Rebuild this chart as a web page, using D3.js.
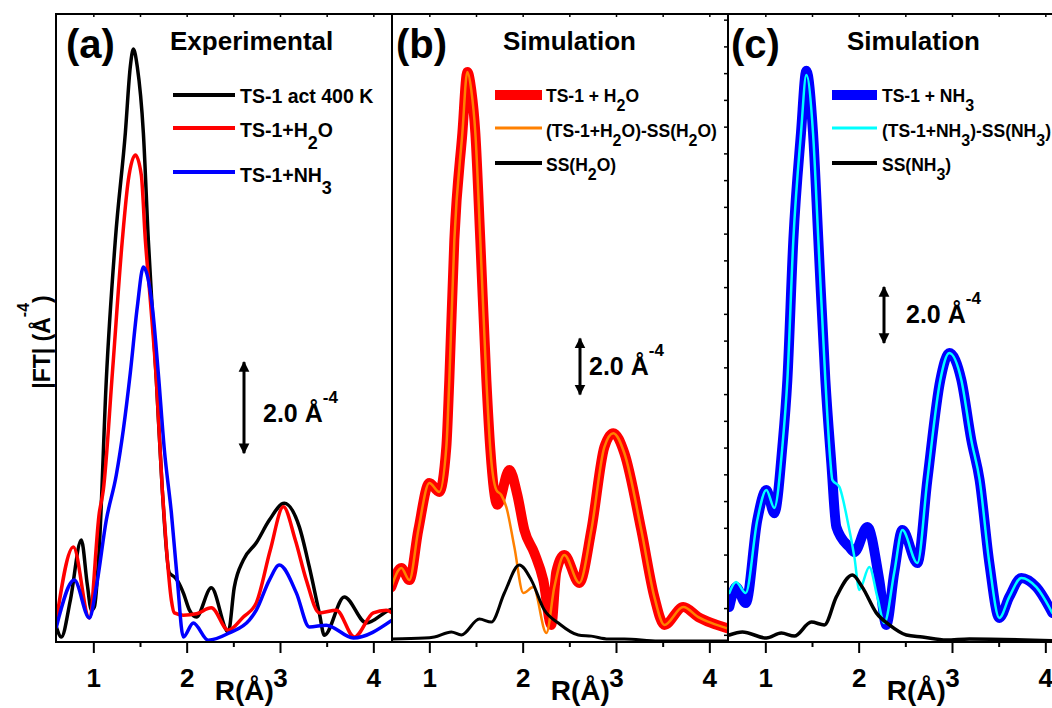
<!DOCTYPE html>
<html><head><meta charset="utf-8">
<script src="https://cdn.jsdelivr.net/npm/d3@7"></script>
<style>
body{margin:0;background:#fff}
svg{display:block}
text{font-family:Arial,"Liberation Sans",Helvetica,sans-serif;fill:#000}
</style>
</head><body>
<svg id="chart" width="1052" height="708"></svg>
<script>
// ---------------- DATA ----------------
const xTicksMajor = [1, 2, 3, 4];
const xTicksMinor = [1.5, 2.5, 3.5];
const xDomain = [0.6, 4.2];
const panelTags = ["(a)", "(b)", "(c)"];
const panelTitles = ["Experimental", "Simulation", "Simulation"];
const scaleBarLabel = "2.0 Å^{-4}";
const scaleBarValue = 2.0;
const yAxisLabel = "|FT| (Å^{-4})";
const xAxisLabel = "R(Å)";

// (a) experimental
const expAct400K = [[0.604,0.33],[0.657,0.11],[0.754,0.92],[0.871,2.24],[0.936,1.25],[0.979,0.70],[1.011,0.77],[1.064,2.09],[1.139,5.76],[1.236,8.84],[1.343,11.19],[1.396,12.64],[1.429,13.03],[1.471,12.64],[1.536,11.19],[1.589,8.84],[1.675,5.76],[1.739,3.34],[1.814,1.52],[1.868,1.43],[1.9,1.35],[1.964,1.08],[2.03,0.70],[2.104,0.55],[2.264,1.19],[2.446,0.22],[2.51,1.2],[2.607,1.80],[2.746,2.18],[2.886,2.68],[3.046,3.05],[3.207,2.53],[3.314,1.65],[3.421,0.64],[3.475,0.15],[3.689,0.99],[3.925,0.42],[4.171,0.70],[4.2,0.72]];
const expH2O = [[0.604,0.48],[0.786,2.09],[0.957,0.53],[1.064,2.84],[1.107,3.34],[1.204,5.91],[1.311,8.84],[1.375,10.15],[1.45,10.70],[1.514,10.26],[1.557,8.84],[1.611,7.5],[1.675,5.76],[1.739,3.34],[1.782,2.09],[1.836,0.92],[1.868,0.64],[1.964,0.59],[2.104,0.62],[2.264,0.75],[2.446,0.26],[2.607,0.55],[2.746,0.86],[2.896,2.02],[3.036,2.97],[3.164,2.24],[3.282,1.36],[3.421,0.64],[3.604,0.70],[3.796,0.11],[4.0,0.64],[4.139,0.70],[4.2,0.64]];
const expNH3 = [[0.604,0.33],[0.796,1.36],[0.957,0.53],[1.032,1.21],[1.139,2.68],[1.246,3.67],[1.321,4.66],[1.396,5.91],[1.471,7.36],[1.536,8.24],[1.632,7.36],[1.696,5.91],[1.761,4.22],[1.836,2.84],[1.9,1.36],[1.964,0.11],[2.071,0.42],[2.232,0.04],[2.457,0.20],[2.671,0.48],[2.746,0.70],[2.886,1.36],[2.993,1.69],[3.175,1.08],[3.314,0.33],[3.496,0.37],[3.786,0.09],[4.2,0.48]];

// (b) simulation H2O
const simH2O = [[0.593,1.96],[0.700,2.64],[0.786,2.21],[0.882,4.00],[1.000,5.68],[1.107,5.36],[1.182,6.96],[1.214,9.36],[1.268,14.36],[1.354,18.18],[1.407,20.36],[1.45,19.7],[1.493,18.18],[1.546,14.36],[1.611,9.36],[1.654,6.86],[1.729,4.9],[1.857,6.14],[1.943,5.25],[2.018,4.0],[2.125,3.18],[2.221,2.21],[2.307,0.61],[2.36,2.5],[2.446,3.11],[2.607,2.11],[2.736,4.0],[2.875,6.96],[2.971,7.46],[3.089,6.75],[3.271,4.0],[3.411,1.61],[3.518,0.61],[3.721,1.25],[3.882,0.89],[4.021,0.68],[4.2,0.48]];
const simH2OminusSS = [[0.593,1.96],[0.700,2.64],[0.786,2.21],[0.882,4.00],[1.000,5.68],[1.107,5.36],[1.182,6.96],[1.214,9.36],[1.268,14.36],[1.354,18.18],[1.407,20.36],[1.45,19.7],[1.493,18.18],[1.546,14.36],[1.611,9.36],[1.654,6.86],[1.718,5.43],[1.771,5.25],[1.825,4.82],[1.911,3.39],[2.007,1.75],[2.114,1.96],[2.254,0.32],[2.339,1.96],[2.446,3.11],[2.607,2.11],[2.736,4.0],[2.875,6.96],[2.971,7.46],[3.089,6.75],[3.271,4.0],[3.411,1.61],[3.518,0.61],[3.721,1.25],[3.882,0.89],[4.021,0.68],[4.2,0.48]];
const ssH2O = [[0.593,0.11],[0.946,0.14],[1.054,0.18],[1.236,0.36],[1.343,0.25],[1.536,0.82],[1.664,0.71],[1.804,1.75],[1.964,2.75],[2.093,2.21],[2.232,1.14],[2.382,0.68],[2.596,0.25],[2.736,0.21],[2.918,0.11],[3.089,0.11],[3.454,0.04],[4.2,0.04]];

// (c) simulation NH3
const simNH3 = [[0.614,1.25],[0.686,1.96],[0.79,1.39],[0.914,4.36],[1.011,5.43],[1.096,4.6],[1.182,6.96],[1.236,9.36],[1.3,14.36],[1.382,18.18],[1.439,20.4],[1.511,18.18],[1.568,14.36],[1.643,9.36],[1.707,6.39],[1.761,4.11],[1.9,3.39],[1.954,3.21],[2.093,4.11],[2.221,2.21],[2.296,0.61],[2.382,2.5],[2.468,4.0],[2.629,2.82],[2.736,5.79],[2.875,9.36],[2.971,10.32],[3.1,9.36],[3.207,7.21],[3.296,5.79],[3.4,2.82],[3.507,0.86],[3.614,1.61],[3.743,2.29],[3.904,1.96],[4.075,1.04]];
const simNH3minusSS = [[0.614,1.75],[0.686,2.14],[0.79,1.75],[0.914,4.36],[1.011,5.43],[1.096,4.79],[1.182,6.96],[1.236,9.36],[1.3,14.36],[1.382,18.18],[1.439,20.25],[1.511,18.18],[1.568,14.36],[1.643,9.36],[1.696,6.5],[1.718,5.79],[1.793,5.54],[1.879,4.36],[1.954,3.04],[2.007,1.86],[2.114,2.68],[2.2,1.61],[2.275,0.68],[2.382,2.5],[2.468,4.0],[2.629,2.82],[2.736,5.79],[2.875,9.36],[2.971,10.32],[3.1,9.36],[3.207,7.21],[3.296,5.79],[3.4,2.82],[3.507,0.86],[3.614,1.61],[3.743,2.29],[3.904,1.96],[4.075,1.04]];
const ssNH3 = [[0.614,0.25],[0.754,0.36],[1.011,0.14],[1.171,0.32],[1.311,0.21],[1.493,0.71],[1.632,0.61],[1.761,1.61],[1.932,2.39],[2.039,1.96],[2.189,1.04],[2.329,0.61],[2.511,0.25],[2.682,0.18],[2.939,0.07],[3.186,0.11],[4.075,0.04]];

const legendA = ["TS-1 act 400 K", "TS-1+H_{2}O", "TS-1+NH_{3}"];
const legendB = ["TS-1 + H_{2}O", "(TS-1+H_{2}O)-SS(H_{2}O)", "SS(H_{2}O)"];
const legendC = ["TS-1 + NH_{3}", "(TS-1+NH_{3})-SS(NH_{3})", "SS(NH_{3})"];

// ---------------- LAYOUT / STYLE ----------------
const yBase = 642, yTop = 14;
const panels = [
  { x0: 56, x1: 392, yMax: 13.8, tag: panelTags[0], title: panelTitles[0], tagX: 66, titleX: 170,
    series: [ {d: expAct400K, c: "#000", w: 3.5}, {d: expH2O, c: "#ff0000", w: 3.5}, {d: expNH3, c: "#0000ff", w: 3.5} ],
    legend: { labels: legendA, lx0: 173, lx1: 235, tx: 240, ly: [95, 128, 172], ty: [103, 137, 182], size: 19.5, sub: 12, subSize: 18,
              styles: [{c:"#000",w:4},{c:"#ff0000",w:4},{c:"#0000ff",w:4}] },
    arrow: { x: 244, mid: 5.15, tx: 263, ty: 422 } },
  { x0: 392, x1: 728, yMax: 22.43, tag: panelTags[1], title: panelTitles[1], tagX: 396, titleX: 503,
    series: [ {d: simH2O, c: "#ff0000", w: 10}, {d: simH2OminusSS, c: "#ff8000", w: 2.5}, {d: ssH2O, c: "#000", w: 3} ],
    legend: { labels: legendB, lx0: 495, lx1: 542, tx: 546, ly: [95, 128, 163], ty: [102, 137, 171], size: 17.5, sub: 9, subSize: 16,
              styles: [{c:"#ff0000",w:10},{c:"#ff8000",w:3},{c:"#000",w:4}] },
    arrow: { x: 580, mid: 9.84, tx: 589, ty: 375 } },
  { x0: 728, x1: 1064, yMax: 22.43, tag: panelTags[2], title: panelTitles[2], tagX: 731, titleX: 847,
    series: [ {d: simNH3, c: "#0000ff", w: 10}, {d: simNH3minusSS, c: "#00ffff", w: 2.5}, {d: ssNH3, c: "#000", w: 3.5} ],
    legend: { labels: legendC, lx0: 832, lx1: 877, tx: 882, ly: [95, 128, 163], ty: [102, 137, 171], size: 17.5, sub: 9, subSize: 16,
              styles: [{c:"#0000ff",w:10},{c:"#00ffff",w:3},{c:"#000",w:4}] },
    arrow: { x: 884, mid: 11.68, tx: 906, ty: 323 } }
];

const svg = d3.select("#chart");
const defs = svg.append("defs");
defs.append("marker").attr("id","ah").attr("viewBox","0 0 10 10").attr("refX",9).attr("refY",5)
  .attr("markerWidth",3.6).attr("markerHeight",6).attr("markerUnits","strokeWidth").attr("orient","auto-start-reverse")
  .append("path").attr("d","M0,0 L10,5 L0,10 Z").attr("fill","#000");

function rich(t, str, o) {
  const parts = str.split(/(_\{[^}]*\}|\^\{[^}]*\})/).filter(s => s.length);
  let off = 0;
  parts.forEach(p => {
    let dy, txt = p, size = null;
    if (p.startsWith("_{")) { txt = p.slice(2,-1); dy = o.sub - off; off = o.sub; size = o.subSize; }
    else if (p.startsWith("^{")) { txt = p.slice(2,-1); dy = -o.sup - off; off = -o.sup; size = o.supSize; }
    else { dy = -off; off = 0; }
    const ts = t.append("tspan").attr("dy", dy).text(txt);
    if (size) ts.attr("font-size", size);
  });
}

panels.forEach((p, i) => {
  const xs = d3.scaleLinear().domain(xDomain).range([p.x0, p.x1]);
  const ys = d3.scaleLinear().domain([0, p.yMax]).range([yBase, yTop]);
  const g = svg.append("g");
  const cid = "clip" + i;
  defs.append("clipPath").attr("id", cid).append("rect")
    .attr("x", p.x0).attr("y", yTop).attr("width", p.x1 - p.x0).attr("height", yBase - yTop);

  const line = d3.line().x(d => xs(d[0])).y(d => ys(d[1])).curve(d3.curveMonotoneX);
  const cg = g.append("g").attr("clip-path", `url(#${cid})`);
  p.series.forEach(s => {
    cg.append("path").datum(s.d).attr("d", line).attr("fill","none")
      .attr("stroke", s.c).attr("stroke-width", s.w).attr("stroke-linejoin","round").attr("stroke-linecap","round");
  });

  // bottom axis
  const ax = g.append("g").attr("transform", `translate(0,${yBase})`)
    .call(d3.axisBottom(xs).tickValues(xTicksMajor).tickFormat(d3.format("d")).tickSize(11).tickPadding(16));
  ax.select(".domain").remove();
  ax.selectAll(".tick line").attr("stroke","#000").attr("stroke-width",2);
  ax.selectAll(".tick text").attr("font-size",26).attr("font-weight","bold").attr("font-family","Arial, 'Liberation Sans', sans-serif").attr("fill","#000");
  const axm = g.append("g").attr("transform", `translate(0,${yBase})`)
    .call(d3.axisBottom(xs).tickValues(xTicksMinor).tickFormat("").tickSize(5));
  axm.select(".domain").remove();
  axm.selectAll(".tick line").attr("stroke","#000").attr("stroke-width",2);
  // top inner ticks
  const axt = g.append("g").attr("transform", `translate(0,${yTop})`)
    .call(d3.axisBottom(xs).tickValues(xTicksMajor.concat(xTicksMinor)).tickFormat("").tickSize(3));
  axt.select(".domain").remove();
  axt.selectAll(".tick line").attr("stroke","#000").attr("stroke-width",1.5);

  // frame
  g.append("rect").attr("x", p.x0).attr("y", yTop).attr("width", p.x1 - p.x0).attr("height", yBase - yTop)
    .attr("fill","none").attr("stroke","#000").attr("stroke-width",2);

  // x label
  g.append("text").attr("x", (xs(2) + xs(3)) / 2 + 11).attr("y", 700).attr("text-anchor","middle")
    .attr("font-size",28).attr("font-weight","bold").text(xAxisLabel);

  // tag & title
  g.append("text").attr("x", p.tagX).attr("y", 58).attr("font-size",40).attr("font-weight","bold").text(p.tag);
  g.append("text").attr("x", p.titleX).attr("y", 50).attr("font-size",26).attr("font-weight","bold").text(p.title);

  // legend
  const L = p.legend;
  L.labels.forEach((lab, k) => {
    g.append("line").attr("x1", L.lx0).attr("x2", L.lx1).attr("y1", L.ly[k]).attr("y2", L.ly[k])
      .attr("stroke", L.styles[k].c).attr("stroke-width", L.styles[k].w);
    const t = g.append("text").attr("x", L.tx).attr("y", L.ty[k]).attr("font-size", L.size).attr("font-weight","bold");
    rich(t, lab, { sub: L.sub, subSize: L.subSize });
  });

  // scale bar arrow
  const A = p.arrow;
  g.append("line").attr("x1", A.x).attr("x2", A.x)
    .attr("y1", ys(A.mid - scaleBarValue / 2)).attr("y2", ys(A.mid + scaleBarValue / 2))
    .attr("stroke","#000").attr("stroke-width",3)
    .attr("marker-start","url(#ah)").attr("marker-end","url(#ah)");
  const st = g.append("text").attr("x", A.tx).attr("y", A.ty).attr("font-size",25).attr("font-weight","bold");
  rich(st, scaleBarLabel, { sup: 19, supSize: 17 });
});

// small ticks on the b/c divider (pointing left)
const yTickScale = d3.scaleLinear().domain([-0.25, 23.23]).range([yBase, yTop]);
svg.append("g").selectAll("line").data(d3.range(0, 24)).join("line")
  .attr("x1", 724).attr("x2", 728).attr("y1", d => yTickScale(d)).attr("y2", d => yTickScale(d))
  .attr("stroke","#000").attr("stroke-width",1.5);

// y label
const yl = svg.append("text").attr("transform","translate(50,342) rotate(-90)").attr("text-anchor","middle")
  .attr("font-size",23).attr("font-weight","bold");
rich(yl, yAxisLabel, { sup: 21, supSize: 16 });
</script>
</body></html>
